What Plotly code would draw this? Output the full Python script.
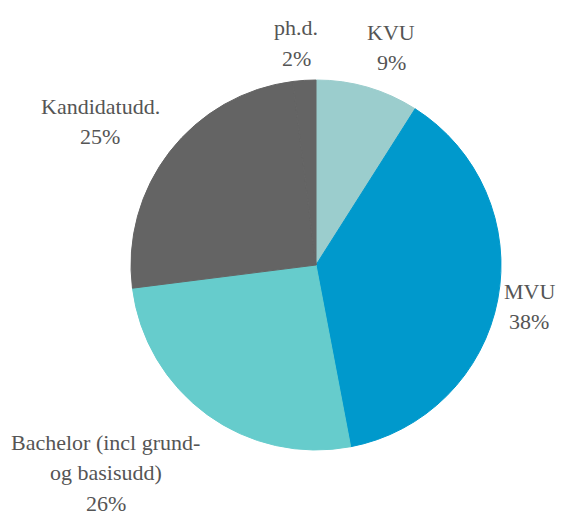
import plotly.graph_objects as go

# Data
labels = ["KVU", "MVU", "Bachelor (incl grund-<br>og basisudd)", "Kandidatudd.", "ph.d."]
values = [9, 38, 26, 25, 2]
colors = ["#9bcdcd", "#0099cc", "#66cccc", "#646464", "#646464"]

W, H = 561, 516
# label block: centre x and first-line centre y in pixels (layout)
label_pos = [(391, 32), (529, 291), (106, 442), (100, 106), (296, 28)]
line_gap = 30.5

cx, cy, r = 316, 265, 185

fig = go.Figure(go.Pie(
    labels=labels,
    values=values,
    sort=False,
    direction="clockwise",
    rotation=0,
    textinfo="none",
    hoverinfo="label+percent",
    marker=dict(colors=colors, line=dict(width=1, color=colors)),
    showlegend=False,
    domain=dict(x=[(cx - r) / W, (cx + r) / W],
                y=[(H - cy - r) / H, (H - cy + r) / H]),
))

font = dict(family="Liberation Serif, Times New Roman, serif", size=22, color="#555555")
for lab, v, (px, py) in zip(labels, values, label_pos):
    lines = lab.split("<br>") + [f"{v}%"]
    for i, ln in enumerate(lines):
        fig.add_annotation(
            x=px / W, y=1 - (py + i * line_gap) / H, xref="paper", yref="paper",
            text=ln, showarrow=False,
            xanchor="center", yanchor="middle", align="center",
            font=font,
        )

fig.update_layout(
    width=W, height=H,
    margin=dict(l=0, r=0, t=0, b=0),
    paper_bgcolor="white", plot_bgcolor="white",
)

fig.write_html("out.html", config={"displayModeBar": False},
               post_script="document.body.style.margin='0';")
